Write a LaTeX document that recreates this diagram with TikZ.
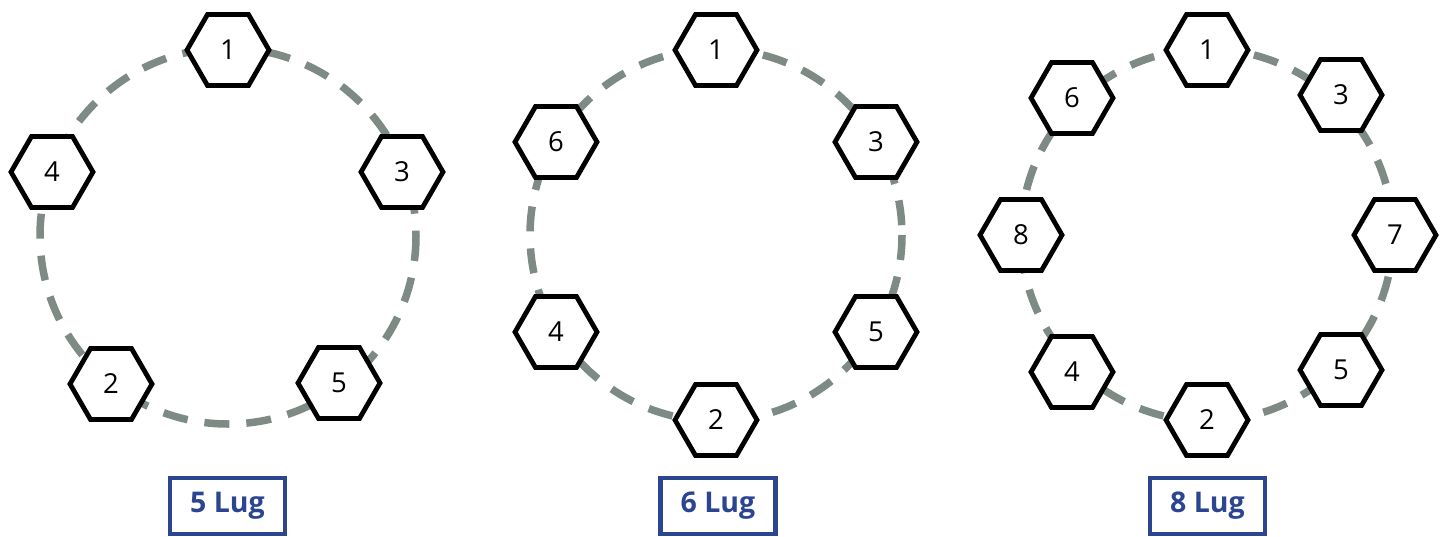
\documentclass[tikz,border=0pt]{standalone}
\usepackage{fontspec}
\setmainfont{Open Sans}
\usetikzlibrary{shapes.geometric}
\definecolor{ringgray}{RGB}{126,138,132}
\definecolor{lugblue}{RGB}{43,69,145}
\tikzset{
  hexnut/.style={regular polygon, regular polygon sides=6, minimum size=82pt,
    inner sep=0pt, draw=black, line width=4.8pt, fill=white,
    font=\fontsize{27.5}{32}\selectfont},
  ring/.style={draw=ringgray, line width=7.5pt, dash pattern=on 25pt off 17pt},
  lugbox/.style={draw=lugblue, line width=4.2pt, minimum width=115pt, minimum height=56pt,
    inner sep=0pt, text=lugblue, font=\bfseries\fontsize{28.5}{32}\selectfont}
}
\begin{document}
\begin{tikzpicture}[x=1pt,y=-1pt]
\useasboundingbox (0,0) rectangle (1445,536);
% 5 lug
\coordinate (c5) at (228,236);
\draw[ring] (c5) circle[radius=188];
\node[hexnut] (a1) at (228,50) {1};
\node[hexnut] (a3) at (402,172) {3};
\node[hexnut] (a5) at (339,383) {5};
\node[hexnut] (a2) at (111,384) {2};
\node[hexnut] (a4) at (52,172) {4};
\node[lugbox] (l5) at (227.5,506) {5 Lug};
% 6 lug
\coordinate (c6) at (716,235);
\draw[ring] (c6) circle[radius=186];
\node[hexnut] (b1) at (716,50) {1};
\node[hexnut] (b3) at (876,142) {3};
\node[hexnut] (b5) at (876,332) {5};
\node[hexnut] (b2) at (716,420) {2};
\node[hexnut] (b4) at (556,332) {4};
\node[hexnut] (b6) at (556,142) {6};
\node[lugbox] (l6) at (718,506) {6 Lug};
% 8 lug
\coordinate (c8) at (1207,235);
\draw[ring] (c8) circle[radius=186];
\node[hexnut] (d1) at (1207,50) {1};
\node[hexnut] (d3) at (1341,95) {3};
\node[hexnut] (d7) at (1395,235) {7};
\node[hexnut] (d5) at (1341,370) {5};
\node[hexnut] (d2) at (1207,420) {2};
\node[hexnut] (d4) at (1072,372) {4};
\node[hexnut] (d8) at (1021,235) {8};
\node[hexnut] (d6) at (1072,98) {6};
\node[lugbox] (l8) at (1207.5,506) {8 Lug};
\end{tikzpicture}
\end{document}
